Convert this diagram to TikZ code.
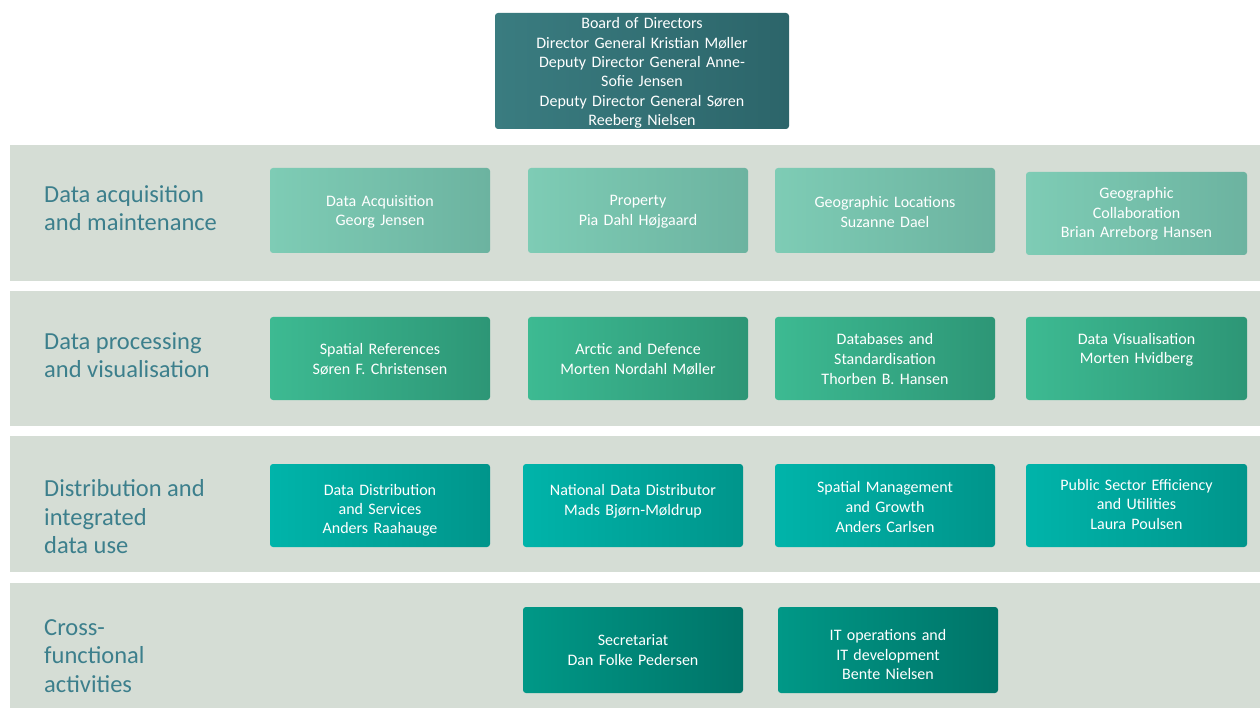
\documentclass[tikz,border=0pt]{standalone}
\usepackage{fontspec}
\setmainfont{Carlito}
\definecolor{bandgrey}{HTML}{D5DDD5}
\definecolor{labelc}{HTML}{3C7F8C}
\definecolor{topL}{HTML}{3A7C80}
\definecolor{topR}{HTML}{2C656A}
\definecolor{aL}{HTML}{7ECCB5}
\definecolor{aR}{HTML}{6CB3A0}
\definecolor{bL}{HTML}{3DBA92}
\definecolor{bR}{HTML}{2D9676}
\definecolor{cL}{HTML}{00B4AA}
\definecolor{cR}{HTML}{00958B}
\definecolor{dL}{HTML}{009887}
\definecolor{dR}{HTML}{007468}
\tikzset{
  band/.style={fill=bandgrey, draw=none},
  unit/.style={rounded corners=3pt, minimum width=220pt, minimum height=83pt,
    inner sep=0pt},
  rowa/.style={unit, left color=aL, right color=aR},
  rowb/.style={unit, left color=bL, right color=bR},
  rowc/.style={unit, left color=cL, right color=cR},
  rowd/.style={unit, left color=dL, right color=dR},
  utext/.style={text width=214pt, align=center, text=white, inner sep=0pt,
    font=\fontsize{16}{19.6}\selectfont},
  topbox/.style={rounded corners=3pt, minimum width=294pt, minimum height=116pt,
    inner sep=0pt, left color=topL, right color=topR},
  rowlabel/.style={anchor=west, align=left, text=labelc, inner sep=0pt,
    font=\fontsize{24.5}{28.5}\selectfont}
}
\begin{document}
\begin{tikzpicture}[x=1pt,y=-1pt]
\useasboundingbox (0,0) rectangle (1260,708);
\fill[white] (0,0) rectangle (1260,708);
% bands
\fill[band] (10,145) rectangle (1260,281);
\fill[band] (10,291) rectangle (1260,426);
\fill[band] (10,436) rectangle (1260,572);
\fill[band] (10,583) rectangle (1260,708);
% top box
\node[topbox] (board) at (642,71) {};
\node[utext, text width=290pt, font=\fontsize{16}{19.4}\selectfont] (boardt) at (642,73) {Board of Directors\\Director General Kristian Møller\\Deputy Director General Anne-\\Sofie Jensen\\Deputy Director General Søren\\Reeberg Nielsen};
% row labels
\node[rowlabel] (la) at (44,208) {Data acquisition\\and maintenance};
\node[rowlabel] (lb) at (44,355) {Data processing\\and visualisation};
\node[rowlabel] (lc) at (44,517) {Distribution and\\integrated\\data use};
\node[rowlabel] (ld) at (44,656) {Cross-\\functional\\activities};
% row 1
\node[rowa, minimum height=85pt] (a1) at (380,210.5) {};
\node[utext] (a1t) at (380,212) {Data Acquisition\\Georg Jensen};
\node[rowa, minimum height=85pt] (a2) at (638,210.5) {};
\node[utext] (a2t) at (638,212) {Property\\Pia Dahl Højgaard};
\node[rowa, minimum height=85pt] (a3) at (885,210.5) {};
\node[utext] (a3t) at (885,212) {Geographic Locations\\Suzanne Dael};
\node[rowa, minimum width=221pt] (a4) at (1136.5,213.5) {};
\node[utext] (a4t) at (1136.5,214) {Geographic\\Collaboration\\Brian Arreborg Hansen};
% row 2
\node[rowb] (b1) at (380,358.5) {};
\node[utext] (b1t) at (380,359) {Spatial References\\Søren F. Christensen};
\node[rowb] (b2) at (638,358.5) {};
\node[utext] (b2t) at (638,359) {Arctic and Defence\\Morten Nordahl Møller};
\node[rowb] (b3) at (885,358.5) {};
\node[utext] (b3t) at (885,359) {Databases and\\Standardisation\\Thorben B. Hansen};
\node[rowb, minimum width=221pt] (b4) at (1136.5,358.5) {};
\node[utext] (b4t) at (1136.5,350) {Data Visualisation\\Morten Hvidberg};
% row 3
\node[rowc] (c1) at (380,505.5) {};
\node[utext, font=\fontsize{16}{19}\selectfont] (c1t) at (380,510.5) {Data Distribution\\and Services\\Anders Raahauge};
\node[rowc] (c2) at (633,505.5) {};
\node[utext] (c2t) at (633,501.5) {National Data Distributor\\Mads Bjørn-Møldrup};
\node[rowc] (c3) at (885,505.5) {};
\node[utext] (c3t) at (885,507) {Spatial Management\\and Growth\\Anders Carlsen};
\node[rowc, minimum width=221pt] (c4) at (1136.5,505.5) {};
\node[utext] (c4t) at (1136.5,504.5) {Public Sector Efficiency\\and Utilities\\Laura Poulsen};
% row 4
\node[rowd, minimum height=86pt] (d1) at (633,650) {};
\node[utext] (d1t) at (633,650) {Secretariat\\Dan Folke Pedersen};
\node[rowd, minimum height=86pt] (d2) at (888,650) {};
\node[utext] (d2t) at (888,654.5) {IT operations and\\IT development\\Bente Nielsen};
\end{tikzpicture}
\end{document}
